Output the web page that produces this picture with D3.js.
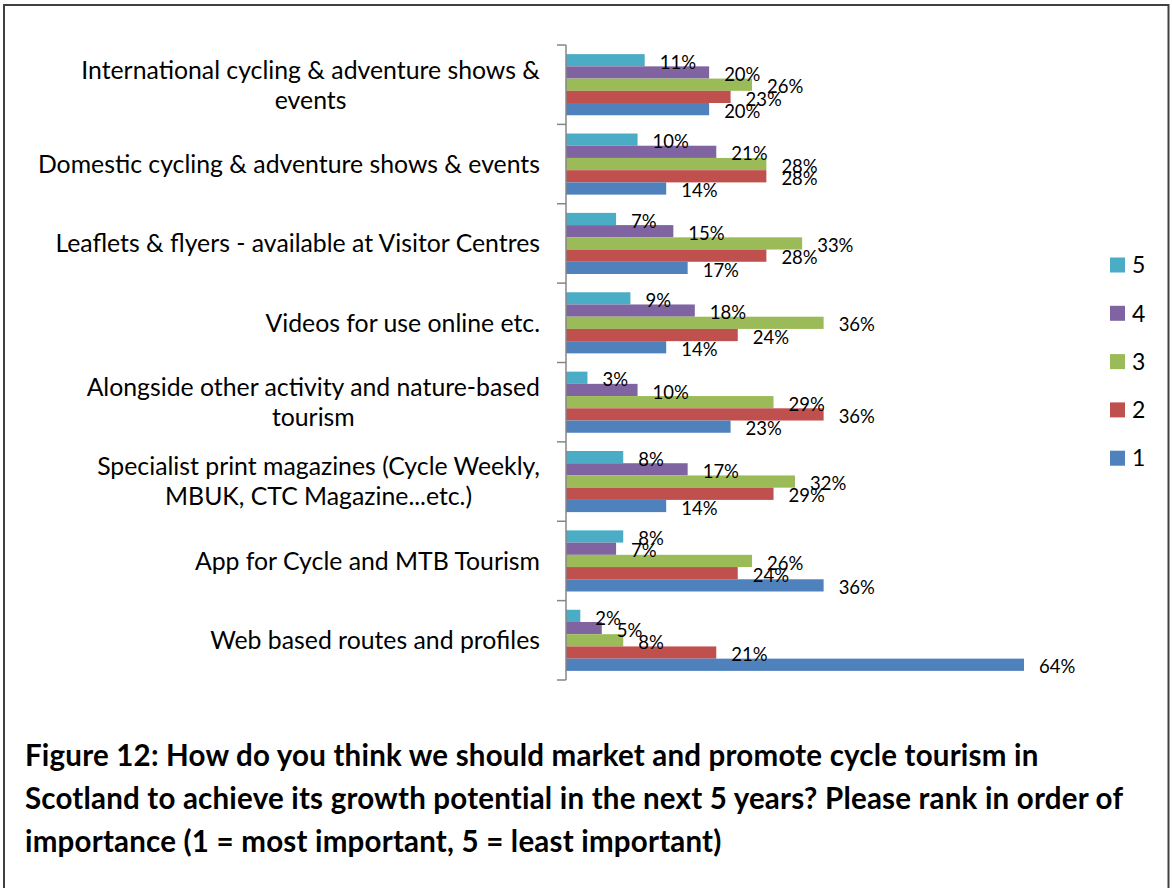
<!DOCTYPE html>
<html>
<meta charset="utf-8">
<head>
<style>
body { margin: 0; background: #fff; }
svg { display: block; font-family: Lato, "Open Sans", sans-serif; }
.cat text { font-size: 24.8px; fill: #000; }
.val { font-size: 18.5px; fill: #000; }
.legend text { font-size: 23px; fill: #000; }
.caption text { font-size: 29.5px; font-weight: bold; fill: #000; letter-spacing: 0.2px; }
</style>
</head>
<body>
<svg width="1172" height="888"></svg>

<script src="https://cdn.jsdelivr.net/npm/d3@7"></script>
<script>

// categories, top to bottom ("\n" = line break in the label)
var categories = [
  "International cycling & adventure shows &\nevents",
  "Domestic cycling & adventure shows & events",
  "Leaflets & flyers - available at Visitor Centres",
  "Videos for use online etc.",
  "Alongside other activity and nature-based\ntourism",
  "Specialist print magazines (Cycle Weekly,\nMBUK, CTC Magazine...etc.)",
  "App for Cycle and MTB Tourism",
  "Web based routes and profiles"
];

// rank series, drawn top to bottom inside each group
var series = ["5", "4", "3", "2", "1"];
var colors = ["#4bacc6", "#8064a2", "#9bbb59", "#c0504d", "#4f81bd"];

// percent values per rank, same order as categories
var rank5 = [11, 10, 7, 9, 3, 8, 8, 2];
var rank4 = [20, 21, 15, 18, 10, 17, 7, 5];
var rank3 = [26, 28, 33, 36, 29, 32, 26, 8];
var rank2 = [23, 28, 28, 24, 36, 29, 24, 21];
var rank1 = [20, 14, 17, 14, 23, 14, 36, 64];
var values = [rank5, rank4, rank3, rank2, rank1];

var captionLines = [
  "Figure 12: How do you think we should market and promote cycle tourism in",
  "Scotland to achieve its growth potential in the next 5 years? Please rank in order of",
  "importance (1 = most important, 5 = least important)"
];

var svg = d3.select("svg"),
    width = +svg.attr("width"),
    height = +svg.attr("height");

var axisX = 566;

var x = d3.scaleLinear()
    .domain([0, 64])
    .range([axisX, 1024]);

var y0 = d3.scaleBand()
    .domain(d3.range(categories.length))
    .range([45, 680])
    .paddingInner(0.23)
    .paddingOuter(0.115);

var y1 = d3.scaleBand()
    .domain(series)
    .range([0, y0.bandwidth()]);

// outer frame
svg.append("path")
    .attr("d", "M4,888V5H1168.5V888")
    .attr("fill", "none")
    .attr("stroke", "#404040")
    .attr("stroke-width", 2);

// bars
var rows = [];
series.forEach(function(s, si) {
  categories.forEach(function(c, ci) {
    rows.push({ s: s, si: si, ci: ci, v: values[si][ci] });
  });
});

var g = svg.append("g");

g.selectAll("rect")
  .data(rows)
  .enter().append("rect")
    .attr("x", x(0))
    .attr("y", function(d) { return y0(d.ci) + y1(d.s); })
    .attr("width", function(d) { return x(d.v) - x(0); })
    .attr("height", y1.bandwidth())
    .attr("fill", function(d) { return colors[d.si]; });

g.selectAll("text.val")
  .data(rows)
  .enter().append("text")
    .attr("class", "val")
    .attr("x", function(d) { return x(d.v) + 15; })
    .attr("y", function(d) { return y0(d.ci) + y1(d.s) + y1.bandwidth() / 2 + 2; })
    .attr("dy", "0.36em")
    .text(function(d) { return d.v + "%"; });

// category axis: line plus ticks at group boundaries
var step = y0.step();
var yStart = y0.range()[0];
var ax = svg.append("g")
    .attr("stroke", "#868686")
    .attr("stroke-width", 1.5);
ax.append("line")
    .attr("x1", axisX).attr("x2", axisX)
    .attr("y1", yStart).attr("y2", y0.range()[1]);
ax.selectAll("line.tick")
  .data(d3.range(categories.length + 1))
  .enter().append("line")
    .attr("x1", axisX - 9).attr("x2", axisX)
    .attr("y1", function(i) { return yStart + i * step; })
    .attr("y2", function(i) { return yStart + i * step; });

// category labels, block right-aligned, lines centred on each other
var cat = svg.append("g").attr("class", "cat");
categories.forEach(function(c, ci) {
  var lines = c.split("\n");
  var t = cat.append("text").attr("text-anchor", "middle");
  var lineH = 30;
  var cy = y0(ci) + y0.bandwidth() / 2 - (lines.length - 1) * lineH / 2;
  lines.forEach(function(l, li) {
    t.append("tspan")
      .attr("y", cy + li * lineH)
      .attr("dy", "0.36em")
      .text(l);
  });
  var maxW = 0;
  t.selectAll("tspan").each(function() {
    maxW = Math.max(maxW, this.getComputedTextLength());
  });
  t.selectAll("tspan").attr("x", 540 - maxW / 2);
});

// legend
var legend = svg.append("g").attr("class", "legend");
var lg = legend.selectAll("g")
  .data(series)
  .enter().append("g")
    .attr("transform", function(d, i) { return "translate(1110," + (265 + i * 48.3) + ")"; });
lg.append("rect")
    .attr("y", -7.5)
    .attr("width", 15)
    .attr("height", 15)
    .attr("fill", function(d, i) { return colors[i]; });
lg.append("text")
    .attr("x", 22)
    .attr("dy", "0.36em")
    .text(function(d) { return d; });

// caption
svg.append("g").attr("class", "caption")
  .selectAll("text")
  .data(captionLines)
  .enter().append("text")
    .attr("x", 25)
    .attr("y", function(d, i) { return 766 + i * 43; })
    .text(function(d) { return d; });

</script>
</body>
</html>
